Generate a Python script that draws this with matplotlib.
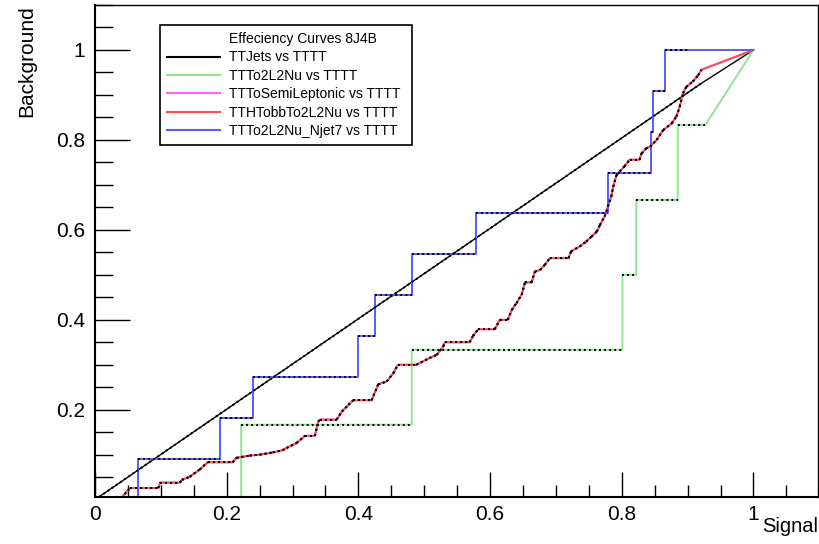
import numpy as np
import matplotlib.pyplot as plt
from matplotlib.lines import Line2D
from matplotlib.collections import LineCollection
from matplotlib.ticker import MultipleLocator, FuncFormatter

plt.rcParams['font.family'] = ['Liberation Sans', 'DejaVu Sans']

# ROC-style efficiency curves, all ending at (1, 1)
header = 'Effeciency Curves 8J4B'
labels = ['TTJets vs TTTT', 'TTTo2L2Nu vs TTTT', 'TTToSemiLeptonic vs TTTT',
          'TTHTobbTo2L2Nu vs TTTT', 'TTTo2L2Nu_Njet7 vs TTTT']
colors = ['black', '#8fe68f', '#ff60ff', '#ff4c4c', '#5a5aff']
widths = [1.0, 1.4, 1.4, 1.4, 1.4]

# TTJets: close to the diagonal
ttjets_x = [0.0, 0.92]
ttjets_y = [0.0, 0.925]

# TTTo2L2Nu: step positions and background levels
tt2l_jumps = [0.222, 0.481, 0.801, 0.822, 0.885]
tt2l_levels = [0.0, 1/6, 2/6, 3/6, 4/6, 5/6]
tt2l_xlast = 0.927

# TTTo2L2Nu_Njet7
njet7_jumps = [0.065, 0.19, 0.24, 0.40, 0.425, 0.481, 0.578, 0.779, 0.845, 0.848, 0.865]
njet7_levels = [0.0] + [k / 11 for k in range(1, 12)]
njet7_xlast = 0.90

# TTHTobbTo2L2Nu (fine staircase)
tth_x = [0.023, 0.040, 0.053, 0.096, 0.099, 0.129, 0.132, 0.144, 0.159, 0.171,
         0.209, 0.215, 0.235, 0.250, 0.270, 0.285, 0.291, 0.306, 0.319, 0.334,
         0.339, 0.342, 0.367, 0.375, 0.385, 0.392, 0.420, 0.430, 0.443, 0.453,
         0.460, 0.488, 0.508, 0.519, 0.529, 0.531, 0.569, 0.574, 0.582, 0.607,
         0.615, 0.627, 0.633, 0.640, 0.648, 0.653, 0.663, 0.668, 0.676, 0.683,
         0.691, 0.719, 0.723, 0.736, 0.746, 0.754, 0.762, 0.767, 0.774, 0.779,
         0.784, 0.787, 0.792, 0.797, 0.804, 0.812, 0.827, 0.830, 0.837, 0.843,
         0.853, 0.863, 0.876, 0.883, 0.888, 0.893, 0.898, 0.908, 0.916, 0.921]
tth_y = [0.000, 0.004, 0.026, 0.026, 0.038, 0.038, 0.044, 0.051, 0.067, 0.083,
         0.083, 0.093, 0.098, 0.100, 0.105, 0.110, 0.115, 0.126, 0.142, 0.142,
         0.174, 0.178, 0.178, 0.196, 0.211, 0.221, 0.221, 0.256, 0.263, 0.281,
         0.300, 0.300, 0.315, 0.322, 0.341, 0.350, 0.350, 0.364, 0.379, 0.379,
         0.400, 0.400, 0.422, 0.437, 0.456, 0.483, 0.483, 0.507, 0.511, 0.522,
         0.537, 0.537, 0.552, 0.563, 0.574, 0.585, 0.596, 0.611, 0.630, 0.652,
         0.674, 0.696, 0.722, 0.730, 0.741, 0.756, 0.756, 0.770, 0.781, 0.785,
         0.800, 0.822, 0.837, 0.852, 0.874, 0.904, 0.918, 0.930, 0.944, 0.956]
# TTToSemiLeptonic sits under the TTH curve
semilep_x = tth_x
semilep_y = tth_y


def step_path(jumps, levels, xlast):
    xs, ys = [0.0], [levels[0]]
    for xj, y0, y1 in zip(jumps, levels[:-1], levels[1:]):
        xs += [xj, xj]
        ys += [y0, y1]
    xs.append(xlast)
    ys.append(levels[-1])
    return xs, ys


def flat_segments(xs, ys):
    return [[(x0, y0), (x1, y1)] for x0, y0, x1, y1 in
            zip(xs[:-1], ys[:-1], xs[1:], ys[1:]) if y0 == y1]


def all_segments(xs, ys):
    return [[(x0, y0), (x1, y1)] for x0, y0, x1, y1 in
            zip(xs[:-1], ys[:-1], xs[1:], ys[1:])]


tt2l_x, tt2l_y = step_path(tt2l_jumps, tt2l_levels, tt2l_xlast)
njet7_x, njet7_y = step_path(njet7_jumps, njet7_levels, njet7_xlast)

curves = [
    (ttjets_x, ttjets_y, all_segments),
    (tt2l_x, tt2l_y, flat_segments),
    (semilep_x, semilep_y, all_segments),
    (tth_x, tth_y, all_segments),
    (njet7_x, njet7_y, flat_segments),
]

fig = plt.figure(figsize=(8.2, 5.44), dpi=100)
ax = fig.add_axes([95 / 820, 1 - 496.5 / 544, 723 / 820, 491.5 / 544])

for (xs, ys, segs), col, lw in zip(curves, colors, widths):
    ax.plot(list(xs) + [1.0], list(ys) + [1.0], color=col, lw=lw, zorder=2)
for (xs, ys, segs), col in zip(curves, colors):
    # scan points drawn as small black markers along the curve
    lc = LineCollection(segs(xs, ys), colors='black', linewidths=1.4,
                        linestyles=(0, (1.0, 1.6)), zorder=3)
    ax.add_collection(lc)

ax.set_xlim(0, 1.098)
ax.set_ylim(0.007, 1.1)

fmt = FuncFormatter(lambda v, p: '%g' % round(v, 3))
ax.xaxis.set_major_locator(MultipleLocator(0.2))
ax.xaxis.set_minor_locator(MultipleLocator(0.05))
ax.yaxis.set_major_locator(MultipleLocator(0.2))
ax.yaxis.set_minor_locator(MultipleLocator(0.05))
ax.xaxis.set_major_formatter(fmt)
ax.yaxis.set_major_formatter(fmt)
ax.tick_params(which='both', direction='in', top=False, right=False,
               labelsize=15, width=1)
ax.tick_params(axis='x', which='major', length=18, pad=6)
ax.tick_params(axis='x', which='minor', length=9)
ax.tick_params(axis='y', which='major', length=25, pad=7)
ax.tick_params(axis='y', which='minor', length=13)
for sp in ax.spines.values():
    sp.set_linewidth(1.0)
ax.spines['left'].set_linewidth(1.5)
ax.spines['bottom'].set_linewidth(1.5)

ax.set_xlabel('Signal', loc='right', fontsize=14.5, labelpad=-5)
ax.set_ylabel('Background', loc='top', fontsize=15, labelpad=14)

handles = [Line2D([], [], color='none')]
handles += [Line2D([], [], color=c, lw=1.5) for c in colors]
leg = ax.legend(handles, [header] + labels, loc='upper left',
                bbox_to_anchor=(160 / 820, 1 - 145 / 544, 252 / 820, 120 / 544),
                bbox_transform=fig.transFigure, mode='expand',
                fontsize=10, handlelength=3.8, handletextpad=0.7,
                labelspacing=0.32, borderpad=0.5, borderaxespad=0,
                fancybox=False, framealpha=1, edgecolor='black')
leg.get_frame().set_linewidth(1.2)

fig.savefig('out.png', dpi=100)
